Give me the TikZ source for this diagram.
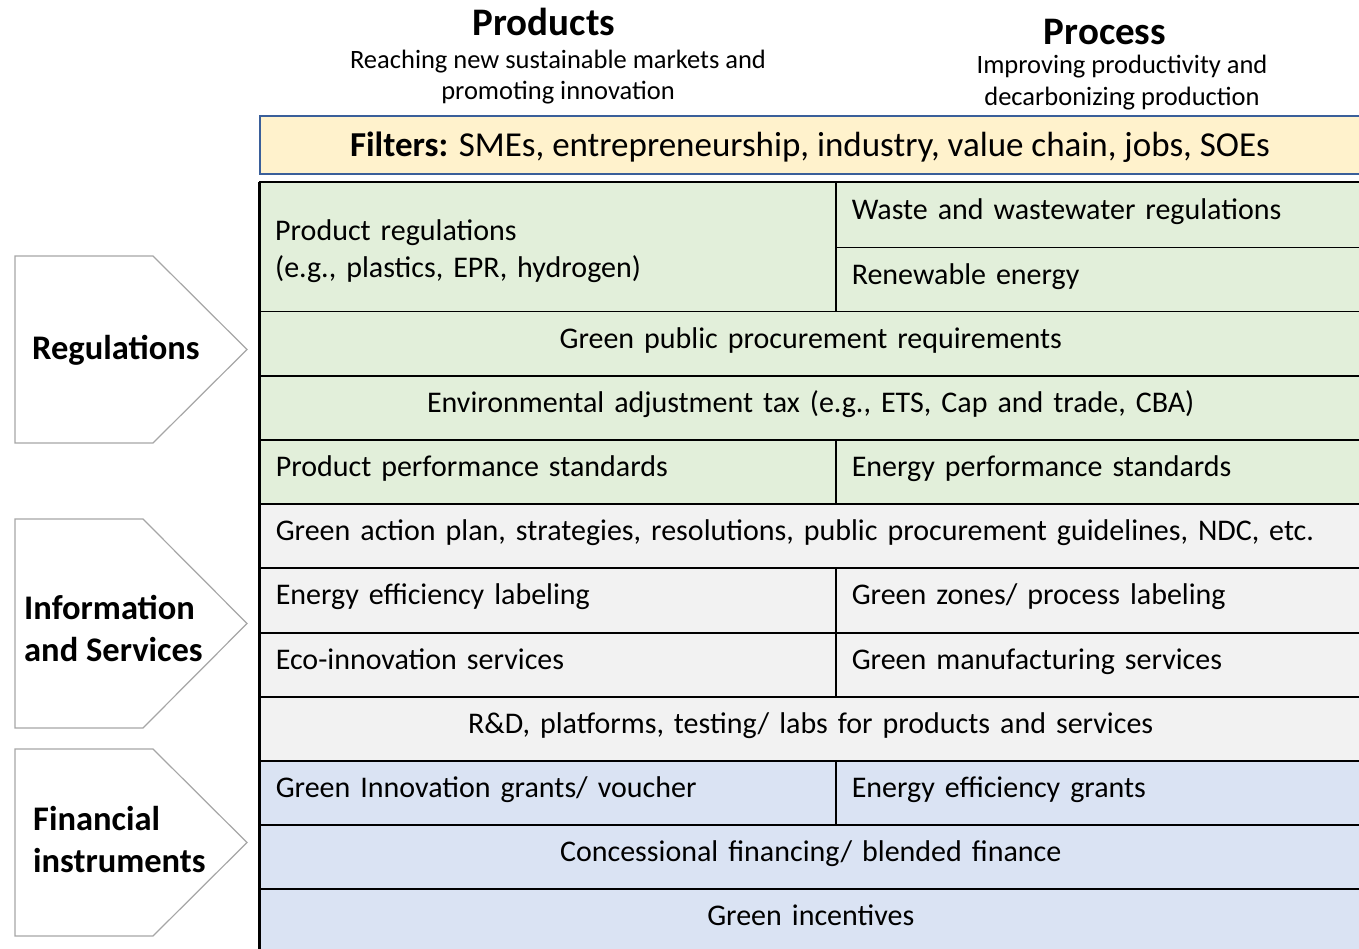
\documentclass[tikz,border=0pt]{standalone}
\usepackage{fontspec}
\setmainfont{Carlito}
\definecolor{cgreen}{HTML}{E2EFDA}
\definecolor{cgray}{HTML}{F2F2F2}
\definecolor{cblue}{HTML}{DAE3F3}
\definecolor{cyellow}{HTML}{FFF2CC}
\definecolor{cborder}{HTML}{3A5F9A}
\definecolor{cchev}{HTML}{A6A6A6}
\tikzset{
  cell/.style={draw=black, line width=1.5pt, rectangle, inner xsep=16pt, inner ysep=0pt,
    font=\fontsize{30}{37}\selectfont, anchor=north west, text height=19pt, text depth=10pt},
  lcell/.style={cell, align=left},
  ccell/.style={cell, align=center},
  chev/.style={draw=cchev, line width=1.2pt, fill=white},
  chevlabel/.style={font=\fontsize{34.5}{42}\selectfont\bfseries, align=left, anchor=west, inner sep=0pt},
  head/.style={font=\fontsize{39}{40}\selectfont\bfseries, inner sep=0pt},
  sub/.style={font=\fontsize{26.5}{31.5}\selectfont, align=center, inner sep=0pt},
}
\begin{document}
\begin{tikzpicture}[x=1pt,y=-1pt]
\useasboundingbox (0,0) rectangle (1359,949);
% headers
\node[head] (hprod) at (544,22) {Products};
\node[sub] (sprod) at (558,77) {Reaching new sustainable markets and\\promoting innovation};
\node[head] (hproc) at (1105,32) {Process};
\node[sub, font=\fontsize{26.5}{32}\selectfont] (sproc) at (1122,83) {Improving productivity and\\decarbonizing production};
% filters
\node[draw=cborder, line width=2pt, fill=cyellow, minimum width=1110pt, minimum height=58pt,
  anchor=north west, inner sep=0pt] (filt) at (259,115) {};
\node[font=\fontsize{35}{36}\selectfont, inner sep=0pt] (filtt) at (810,147) {\textbf{Filters:} SMEs, entrepreneurship, industry, value chain, jobs, SOEs};
% rows
\def\L{259}\def\M{835}\def\R{1370}
% green block
\node[lcell, fill=cgreen, minimum width=576pt, minimum height=129pt, text width=544pt] (c1) at (\L,182) {};
\node[font=\fontsize{30}{37}\selectfont, align=left, text width=544pt, anchor=west, inner sep=0pt] (c1t) at ([xshift=16pt,yshift=-4pt]c1.west) {Product regulations\\(e.g., plastics, EPR, hydrogen)};
\node[lcell, fill=cgreen, minimum width=535pt, minimum height=65pt, text width=503pt] (c2) at (\M,182) {Waste and wastewater regulations};
\node[lcell, fill=cgreen, minimum width=535pt, minimum height=64pt, text width=503pt] (c3) at (\M,247) {Renewable energy};
\node[ccell, fill=cgreen, minimum width=1111pt, minimum height=64pt, text width=1079pt] (c4) at (\L,311) {\hspace*{-9pt}Green public procurement requirements};
\node[ccell, fill=cgreen, minimum width=1111pt, minimum height=64pt, text width=1079pt] (c5) at (\L,375) {\hspace*{-9pt}Environmental adjustment tax (e.g., ETS, Cap and trade, CBA)};
\node[lcell, fill=cgreen, minimum width=576pt, minimum height=64pt, text width=544pt] (c6) at (\L,439) {Product performance standards};
\node[lcell, fill=cgreen, minimum width=535pt, minimum height=64pt, text width=503pt] (c7) at (\M,439) {Energy performance standards};
% gray block
\node[lcell, fill=cgray, minimum width=1111pt, minimum height=64pt, text width=1079pt] (c8) at (\L,503) {Green action plan, strategies, resolutions, public procurement guidelines, NDC, etc.};
\node[lcell, fill=cgray, minimum width=576pt, minimum height=65pt, text width=544pt] (c9) at (\L,567) {Energy efficiency labeling};
\node[lcell, fill=cgray, minimum width=535pt, minimum height=65pt, text width=503pt] (c10) at (\M,567) {Green zones/ process labeling};
\node[lcell, fill=cgray, minimum width=576pt, minimum height=64pt, text width=544pt] (c11) at (\L,632) {Eco-innovation services};
\node[lcell, fill=cgray, minimum width=535pt, minimum height=64pt, text width=503pt] (c12) at (\M,632) {Green manufacturing services};
\node[ccell, fill=cgray, minimum width=1111pt, minimum height=64pt, text width=1079pt] (c13) at (\L,696) {\hspace*{-9pt}R\&D, platforms, testing/ labs for products and services};
% blue block
\node[lcell, fill=cblue, minimum width=576pt, minimum height=64pt, text width=544pt] (c14) at (\L,760) {Green Innovation grants/ voucher};
\node[lcell, fill=cblue, minimum width=535pt, minimum height=64pt, text width=503pt] (c15) at (\M,760) {Energy efficiency grants};
\node[ccell, fill=cblue, minimum width=1111pt, minimum height=64pt, text width=1079pt] (c16) at (\L,824) {\hspace*{-9pt}Concessional financing/ blended finance};
\node[ccell, fill=cblue, minimum width=1111pt, minimum height=64pt, text width=1079pt] (c17) at (\L,888) {\hspace*{-9pt}Green incentives};
% outer border
\draw[line width=2.5pt] (\L,182) -- (\R,182) (\L,182) -- (\L,960);
% chevrons
\draw[chev] (15,256) -- (153,256) -- (247,349.5) -- (153,443) -- (15,443) -- cycle;
\node[chevlabel] (lreg) at (32,350) {Regulations};
\draw[chev] (15,519) -- (143,519) -- (247,623.5) -- (143,728) -- (15,728) -- cycle;
\node[chevlabel] (linf) at (24,628) {Information\\and Services};
\draw[chev] (15,749) -- (153,749) -- (247,842.5) -- (153,936) -- (15,936) -- cycle;
\node[chevlabel] (lfin) at (33,840) {Financial\\instruments};
\end{tikzpicture}
\end{document}
